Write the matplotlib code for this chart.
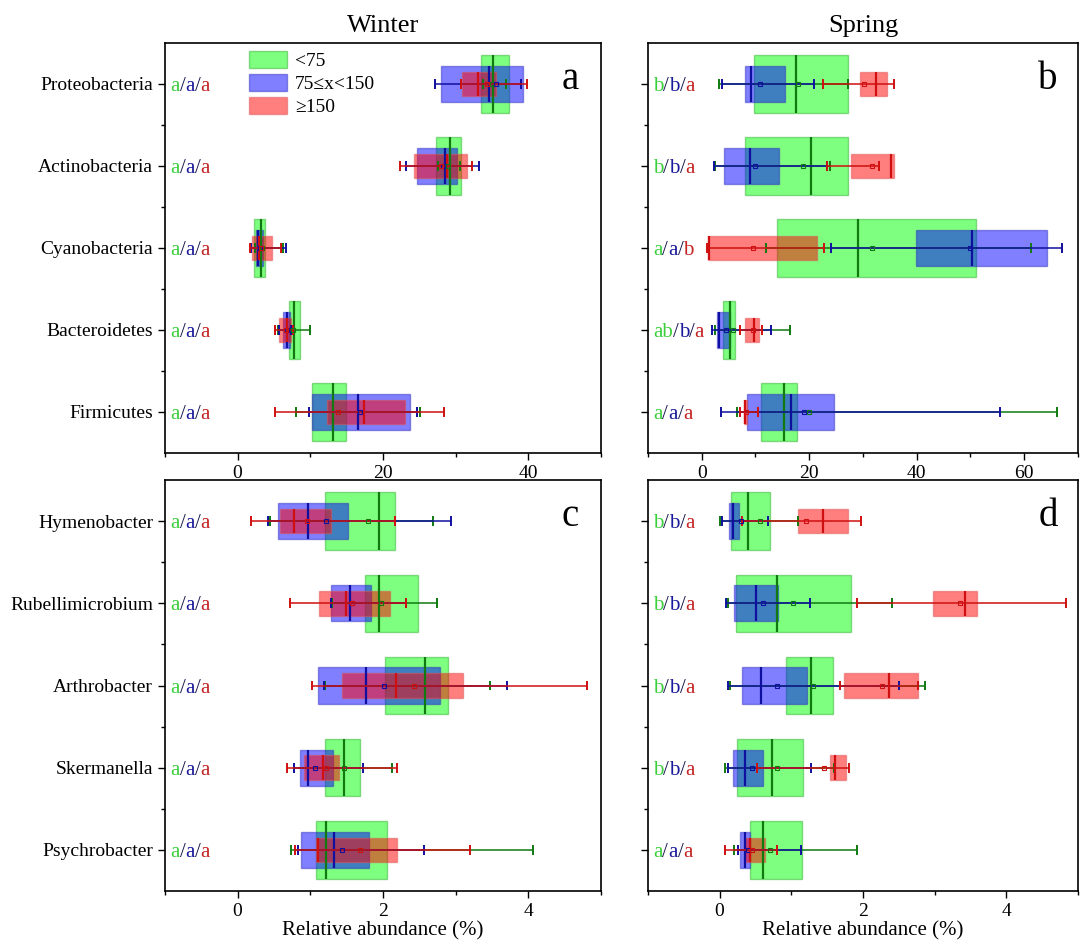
import matplotlib
matplotlib.use("Agg")
import matplotlib.pyplot as plt
from matplotlib.patches import Patch
from matplotlib.ticker import MultipleLocator, FixedLocator
import numpy as np

plt.rcParams['font.family'] = ['Liberation Serif', 'DejaVu Serif']

phyla = ["Proteobacteria", "Actinobacteria", "Cyanobacteria", "Bacteroidetes", "Firmicutes"]
genera = ["Hymenobacter", "Rubellimicrobium", "Arthrobacter", "Skermanella", "Psychrobacter"]
groups = ["<75", "75\u2264x<150", "\u2265150"]

# (q1, median, q3, whisker low, whisker high, mean) per category
winter_phyla_lt75 = [(33.5, 35.2, 37.4, 33.8, 37.0, 35.0), (27.3, 29.2, 30.8, 27.6, 30.6, 29.0),
                     (2.2, 3.2, 3.8, 2.4, 6.2, 3.3), (7.1, 7.7, 8.6, 5.6, 9.9, 7.6),
                     (10.3, 13.1, 14.9, 8.1, 25.1, 13.8)]
winter_phyla_mid = [(28.0, 34.6, 39.3, 27.2, 39.0, 35.6), (24.7, 28.6, 30.2, 23.2, 33.2, 28.3),
                    (2.5, 2.85, 3.5, 1.9, 6.7, 3.1), (6.3, 6.75, 7.2, 5.7, 7.4, 6.8),
                    (10.3, 16.5, 23.7, 9.8, 24.7, 16.8)]
winter_phyla_ge150 = [(30.9, 33.1, 35.6, 30.8, 39.8, 34.3), (24.3, 28.8, 31.6, 22.3, 32.2, 28.0),
                      (2.0, 3.0, 4.8, 1.7, 6.0, 3.2), (5.7, 6.8, 7.3, 5.1, 7.6, 6.6),
                      (12.3, 17.4, 23.0, 5.1, 28.4, 13.8)]

spring_phyla_lt75 = [(9.8, 17.5, 27.2, 3.3, 27.2, 17.9), (8.1, 20.3, 27.3, 2.4, 23.9, 18.9),
                     (14.1, 29.1, 51.1, 12.0, 61.3, 31.6), (4.0, 5.3, 6.2, 2.5, 16.5, 5.8),
                     (11.1, 15.4, 17.8, 6.6, 66.1, 20.0)]
spring_phyla_mid = [(8.1, 9.2, 15.5, 3.8, 20.8, 10.9), (4.2, 9.0, 14.4, 2.3, 23.4, 10.0),
                    (39.9, 50.3, 64.3, 24.0, 67.1, 50.0), (2.8, 3.3, 5.3, 2.0, 12.8, 4.6),
                    (8.4, 16.7, 24.6, 3.6, 55.5, 19.0)]
spring_phyla_ge150 = [(29.4, 32.5, 34.5, 22.5, 35.7, 30.2), (27.8, 35.3, 35.8, 23.4, 32.9, 31.6),
                      (1.1, 1.3, 21.4, 0.9, 22.8, 9.5), (8.0, 9.8, 10.7, 7.1, 11.2, 9.6),
                      (7.8, 8.1, 8.5, 7.1, 10.4, 8.3)]

winter_genera_lt75 = [(1.20, 1.95, 2.17, 0.45, 2.69, 1.79), (1.75, 1.94, 2.48, 1.30, 2.75, 1.97),
                      (2.03, 2.58, 2.89, 1.20, 3.48, 2.43), (1.20, 1.47, 1.68, 0.77, 2.12, 1.47),
                      (1.08, 1.21, 2.06, 0.73, 4.06, 1.68)]
winter_genera_mid = [(0.55, 0.97, 1.52, 0.42, 2.94, 1.22), (1.29, 1.54, 1.83, 1.28, 2.32, 1.58),
                     (1.11, 1.76, 2.78, 1.19, 3.71, 2.02), (0.86, 0.97, 1.31, 0.77, 1.73, 1.07),
                     (0.87, 1.32, 1.81, 0.83, 2.57, 1.44)]
winter_genera_ge150 = [(0.58, 0.77, 1.28, 0.19, 2.16, 0.96), (1.12, 1.49, 2.10, 0.72, 2.32, 1.58),
                       (1.43, 2.18, 3.10, 1.03, 4.81, 2.43), (0.91, 1.18, 1.40, 0.68, 2.19, 1.22),
                       (1.08, 1.10, 2.19, 0.79, 3.20, 1.68)]

spring_genera_lt75 = [(0.16, 0.39, 0.70, 0.01, 1.09, 0.56), (0.23, 0.80, 1.83, 0.11, 2.40, 1.03),
                      (0.93, 1.27, 1.58, 0.15, 2.86, 1.30), (0.24, 0.73, 1.17, 0.08, 1.60, 0.80),
                      (0.43, 0.60, 1.15, 0.20, 1.92, 0.70)]
spring_genera_mid = [(0.13, 0.18, 0.27, 0.04, 0.68, 0.30), (0.20, 0.51, 0.81, 0.09, 1.26, 0.60),
                     (0.31, 0.58, 1.22, 0.11, 2.50, 0.80), (0.18, 0.36, 0.61, 0.12, 1.28, 0.45),
                     (0.29, 0.36, 0.43, 0.25, 1.13, 0.40)]
spring_genera_ge150 = [(1.09, 1.44, 1.79, 0.31, 1.97, 1.21), (2.98, 3.43, 3.59, 1.92, 4.83, 3.36),
                       (1.74, 2.36, 2.77, 1.68, 2.77, 2.26), (1.54, 1.61, 1.76, 0.52, 1.80, 1.45),
                       (0.34, 0.43, 0.63, 0.08, 0.80, 0.45)]

letters_a = ["a/a/a", "a/a/a", "a/a/a", "a/a/a", "a/a/a"]
letters_b = ["b/b/a", "b/b/a", "a/a/b", "ab/b/a", "a/a/a"]
letters_c = ["a/a/a", "a/a/a", "a/a/a", "a/a/a", "a/a/a"]
letters_d = ["b/b/a", "b/b/a", "b/b/a", "b/b/a", "a/a/a"]

fills = ["#00ff00", "#0000ff", "#ff0000"]
edges = ["#30b030", "#3030c0", "#e05050"]
lines = ["#107a10", "#1010a0", "#d01010"]
txtcol = ["#3ccf3c", "#1a1a9a", "#c42424", "#1a1a50"]
heights = [0.70, 0.44, 0.30]


def draw_panel(ax, cats, data, letters, xlim, major, minor, tag, show_cats):
    y = np.arange(len(cats))[::-1] + 1.0
    for g, stats in enumerate(data):
        s = np.array(stats)
        h = heights[g]
        ax.barh(y, s[:, 2] - s[:, 0], left=s[:, 0], height=h, color=fills[g], alpha=0.5,
                edgecolor=edges[g], linewidth=1.0, zorder=2 + g * 0.1)
        ax.vlines(s[:, 1], y - h / 2, y + h / 2, color=lines[g], lw=1.6, zorder=3)
        ax.hlines(y, s[:, 3], s[:, 4], color=lines[g], lw=1.1, zorder=3)
        ax.vlines(s[:, 3], y - 0.06, y + 0.06, color=lines[g], lw=1.4, zorder=3)
        ax.vlines(s[:, 4], y - 0.06, y + 0.06, color=lines[g], lw=1.4, zorder=3)
        ax.plot(s[:, 5], y, ls="none", marker="s", ms=3.5, mfc="none", mec=lines[g], mew=0.8, zorder=4)

    for yi, lab in zip(y, letters):
        parts = lab.split("/")
        t = ax.text(0.012, yi, parts[0], transform=ax.get_yaxis_transform(), fontsize=15,
                    color=txtcol[0], va="center_baseline", ha="left")
        for k, p in enumerate(parts[1:]):
            t = ax.annotate("/", xy=(1, 0), xycoords=t, fontsize=15, color=txtcol[3], va="bottom")
            t = ax.annotate(p, xy=(1, 0), xycoords=t, fontsize=15, color=txtcol[k + 1], va="bottom")

    ax.set_xlim(*xlim)
    ax.set_ylim(0.5, len(cats) + 0.5)
    ax.set_yticks(y)
    if show_cats:
        ax.set_yticklabels(cats, fontsize=14)
    else:
        ax.set_yticklabels([])
    ax.yaxis.set_minor_locator(FixedLocator(np.arange(1.5, len(cats), 1.0)))
    ax.xaxis.set_major_locator(MultipleLocator(major))
    ax.xaxis.set_minor_locator(MultipleLocator(minor))
    ax.tick_params(axis="x", labelsize=14, direction="out", length=5, width=1)
    ax.tick_params(axis="y", direction="out", length=5, width=1)
    ax.tick_params(which="minor", direction="out", length=3, width=1)
    for sp in ax.spines.values():
        sp.set_linewidth(1.2)
    ax.text(0.93, 0.91, tag, transform=ax.transAxes, fontsize=28, ha="center", va="center")


fig = plt.figure(figsize=(10.81, 9.49), dpi=100)
ax_a = fig.add_axes([0.1526, 0.5227, 0.4033, 0.432])
ax_b = fig.add_axes([0.5994, 0.5227, 0.3978, 0.432])
ax_c = fig.add_axes([0.1526, 0.0611, 0.4033, 0.4331])
ax_d = fig.add_axes([0.5994, 0.0611, 0.3978, 0.4331])

draw_panel(ax_a, phyla, [winter_phyla_lt75, winter_phyla_mid, winter_phyla_ge150], letters_a,
           (-10, 50), 20, 10, "a", True)
draw_panel(ax_b, phyla, [spring_phyla_lt75, spring_phyla_mid, spring_phyla_ge150], letters_b,
           (-10, 70), 20, 10, "b", False)
draw_panel(ax_c, genera, [winter_genera_lt75, winter_genera_mid, winter_genera_ge150], letters_c,
           (-1, 5), 2, 1, "c", True)
draw_panel(ax_d, genera, [spring_genera_lt75, spring_genera_mid, spring_genera_ge150], letters_d,
           (-1, 5), 2, 1, "d", False)

ax_a.set_title("Winter", fontsize=19, pad=8)
ax_b.set_title("Spring", fontsize=19, pad=8)
ax_c.set_xlabel("Relative abundance (%)", fontsize=15, labelpad=1)
ax_d.set_xlabel("Relative abundance (%)", fontsize=15, labelpad=1)

handles = [Patch(facecolor=fills[i], alpha=0.5, edgecolor=edges[i]) for i in range(3)]
ax_a.legend(handles, groups, loc="upper left", bbox_to_anchor=(0.165, 1.01), frameon=False,
            fontsize=14, handlelength=2.0, handleheight=1.0, labelspacing=0.2,
            handletextpad=0.4, borderaxespad=0.2)

fig.savefig("out.png", dpi=100)
